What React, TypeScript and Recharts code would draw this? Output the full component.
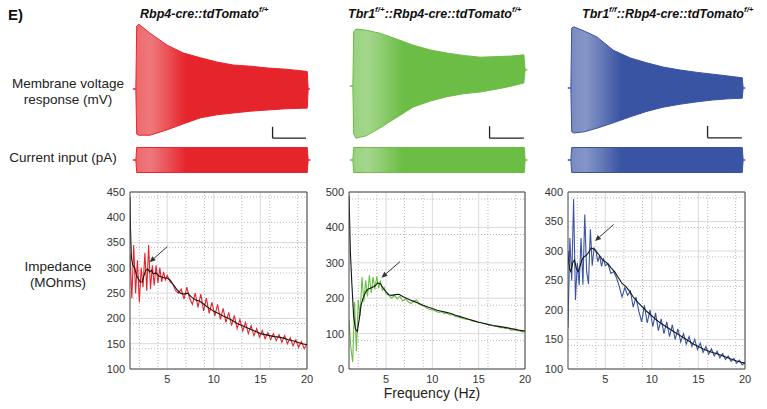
import { AreaChart, Area, LineChart, Line, XAxis, YAxis, CartesianGrid, ReferenceLine } from 'recharts'

const RED = '#e5252b'
const GREEN = '#6bbd45'
const BLUE = '#3a54a4'
const FONT = '"Liberation Sans", Arial, sans-serif'

// impedance: raw traces share one frequency grid (Hz)
const rawFreq = [
  1.0, 1.2, 1.4, 1.6, 1.8, 2.0, 2.2, 2.4, 2.6, 2.8, 3.0, 3.2, 3.4, 3.6, 3.8, 4.0, 4.2, 4.4, 4.6, 4.8, 5.0,
  5.3, 5.6, 5.9, 6.2, 6.5, 6.8, 7.1, 7.4, 7.7, 8.0, 8.3, 8.6, 8.9, 9.2, 9.5, 9.8, 10.1, 10.4, 10.7, 11.0,
  11.3, 11.6, 11.9, 12.2, 12.5, 12.8, 13.1, 13.4, 13.7, 14.0, 14.3, 14.6, 14.9, 15.2, 15.5, 15.8, 16.1,
  16.4, 16.7, 17.0, 17.3, 17.6, 17.9, 18.2, 18.5, 18.8, 19.1, 19.4, 19.7, 20.0,
]
const redRaw = [
  328, 240, 345, 250, 315, 232, 300, 262, 330, 255, 345, 258, 305, 265, 305, 270, 300, 272, 292, 276, 285,
  272, 268, 255, 250, 258, 238, 262, 240, 228, 250, 222, 248, 215, 240, 210, 232, 205, 228, 198, 220,
  192, 212, 186, 206, 180, 198, 175, 192, 170, 186, 166, 180, 163, 176, 160, 172, 158,
  170, 156, 168, 153, 166, 150, 162, 146, 158, 143, 154, 140, 150,
]
const greenRaw = [
  140, 60, 20, 190, 50, 195, 150, 260, 190, 250, 205, 265, 215, 260, 225, 262, 228, 250, 222, 230, 212,
  208, 200, 208, 198, 205, 192, 198, 190, 185, 192, 195, 182, 180, 176, 170, 168, 166, 163, 160, 162,
  156, 158, 152, 154, 148, 147, 144, 142, 140, 140, 136, 135, 132, 132, 128, 128, 124,
  124, 121, 120, 117, 117, 114, 115, 110, 111, 108, 108, 105, 106,
]
const blueRaw = [
  170, 322, 250, 388, 217, 280, 242, 322, 243, 362, 265, 244, 337, 275, 305, 300, 282, 292, 274, 288, 275,
  278, 262, 265, 255, 240, 222, 238, 225, 232, 205, 222, 198, 180, 208, 178, 200, 172, 195, 165, 185,
  160, 180, 155, 175, 150, 168, 146, 160, 142, 155, 138, 150, 133, 144, 128, 138, 125,
  134, 122, 130, 119, 126, 116, 122, 113, 118, 110, 115, 107, 111,
]

// smoothed (black) traces
const smoothFreq = [
  1.0, 1.05, 1.15, 1.3, 1.5, 1.7, 1.9, 2.1, 2.3, 2.5, 2.7, 2.9, 3.1, 3.3, 3.5, 3.8, 4.1, 4.4, 4.7, 5.0,
  5.3, 5.6, 6.0, 6.4, 6.8, 7.2, 7.6, 8.0, 8.5, 9.0, 9.5, 10, 10.5, 11, 11.5, 12, 12.5, 13, 13.5, 14,
  14.5, 15, 15.5, 16, 16.5, 17, 17.5, 18, 18.5, 19, 19.5, 20,
]
const redSmooth = [
  440, 380, 320, 305, 300, 285, 278, 272, 272, 285, 295, 298, 292, 295, 288, 290, 284, 282, 280, 280,
  276, 268, 258, 250, 248, 250, 242, 237, 234, 227, 220, 214, 210, 205, 201, 196, 190, 186, 182, 178,
  174, 170, 168, 166, 164, 163, 161, 158, 156, 153, 150, 148,
]
const greenSmooth = [
  490, 440, 330, 245, 150, 112, 106, 140, 180, 198, 212, 222, 226, 228, 230, 235, 243, 240, 228, 218,
  210, 208, 210, 211, 205, 200, 195, 191, 186, 180, 175, 171, 166, 163, 160, 157, 152, 148, 144, 140,
  136, 132, 129, 126, 123, 121, 119, 117, 114, 112, 109, 107,
]
const blueSmooth = [
  300, 285, 270, 265, 280, 285, 270, 265, 275, 285, 290, 292, 295, 300, 305, 303, 298, 292, 285, 282,
  278, 272, 265, 255, 245, 240, 232, 222, 213, 205, 197, 190, 183, 177, 172, 167, 162, 157, 152, 147,
  142, 138, 134, 131, 128, 126, 123, 120, 117, 114, 112, 110,
]

const freqTicks = [5, 10, 15, 20]
const redTicks = [100, 150, 200, 250, 300, 350, 400, 450]
const greenTicks = [0, 100, 200, 300, 400, 500]
const blueTicks = [100, 150, 200, 250, 300, 350, 400]

// membrane voltage envelopes (time s, mV relative to rest)
const redVT = [-0.4, -0.05, 0.05, 0.3, 1.6, 3.6, 5.5, 7.5, 9.4, 11.3, 13.3, 15.3, 17.4, 19.5, 19.95, 20.05, 20.25]
const redVUp = [0, 0, 10.5, 10.8, 9.3, 7.3, 6.0, 5.2, 4.5, 4.0, 3.8, 3.5, 3.3, 3.0, 2.9, 0, 0]
const redVLo = [0, 0, -7.5, -7.7, -7.7, -6.8, -5.8, -4.8, -4.3, -4.0, -3.7, -3.5, -3.3, -3.2, -3.2, 0, 0]

const greenVT = [-0.4, -0.05, 0.05, 0.3, 1.5, 3.1, 5.1, 7.0, 9.0, 10.9, 12.8, 14.8, 16.8, 18.5, 19.9, 20.05, 20.3]
const greenVUp = [0, 0, 9.0, 9.5, 9.3, 8.8, 7.8, 6.8, 6.0, 5.5, 5.1, 4.8, 4.9, 5.0, 5.2, 2.7, 2.7]
const greenVLo = [0, 0, -8.0, -8.7, -8.3, -7.0, -5.2, -3.5, -2.5, -1.8, -1.3, -1.0, -0.5, 0.0, 0.5, 2.7, 2.7]

const blueVT = [-0.4, -0.05, 0.05, 0.3, 1.5, 3.0, 4.9, 6.9, 8.8, 10.7, 12.7, 14.7, 16.5, 18.3, 19.95, 20.05, 20.3]
const blueVUp = [0, 0, 10.0, 10.2, 9.5, 8.5, 6.3, 5.0, 4.2, 3.5, 3.0, 2.6, 2.3, 2.0, 1.7, 0, 0]
const blueVLo = [0, 0, -7.3, -7.5, -7.3, -6.7, -5.8, -4.8, -3.9, -3.2, -2.7, -2.3, -2.0, -1.8, -1.7, 0, 0]

// current input envelope (pA)
const curT = [-0.4, -0.05, 0.05, 19.95, 20.05, 20.3]
const curUp = [0, 0, 100, 100, 0, 0]
const curLo = [0, 0, -100, -100, 0, 0]

const range = (a: number, b: number, s: number, skip: number) => {
  const out: number[] = []
  for (let v = a; v <= b + 1e-9; v += s) if (Math.abs(v % skip) > 1e-6) out.push(v)
  return out
}

const Arrow = (p: any) => {
  const { x1, y1, x2, y2 } = p
  const ang = Math.atan2(y2 - y1, x2 - x1)
  const L = 6, W = 2.6
  const bx = x2 - L * Math.cos(ang), by = y2 - L * Math.sin(ang)
  const px = -Math.sin(ang) * W, py = Math.cos(ang) * W
  return (
    <g>
      <line x1={x1} y1={y1} x2={bx} y2={by} stroke="#333" strokeWidth={1} />
      <polygon points={`${x2},${y2} ${bx + px},${by + py} ${bx - px},${by - py}`} fill="#333" />
    </g>
  )
}

const tickStyle = { fontSize: 11, fill: '#333', fontFamily: FONT }

function Impedance({ left, plotW, domain, ticks, minorStep, majorStep, raw, smooth, color, arrow }: any) {
  const ML = 36, MT = 6, MR = 8, MB = 22, PH = 177
  const rawData = rawFreq.map((f, i) => ({ f, z: raw[i] }))
  const smoothData = smoothFreq.map((f, i) => ({ f, z: smooth[i] }))
  return (
    <div style={{ position: 'absolute', left: left - ML, top: 192 - MT }}>
      <LineChart width={ML + plotW + MR} height={MT + PH + MB} margin={{ top: MT, right: MR, bottom: 0, left: 0 }}>
        <CartesianGrid
          verticalValues={range(2, 19, 1, 5)}
          horizontalValues={range(domain[0], domain[1], minorStep, majorStep)}
          stroke="#b8b8b8"
          strokeDasharray="1 2"
        />
        <CartesianGrid verticalValues={freqTicks} horizontalValues={ticks} stroke="#dadada" />
        <XAxis
          type="number"
          dataKey="f"
          domain={[1, 20]}
          ticks={freqTicks}
          allowDataOverflow
          height={MB}
          tickLine={false}
          tickSize={3}
          tickMargin={3}
          axisLine={{ stroke: '#444' }}
          tick={tickStyle}
        />
        <YAxis
          type="number"
          domain={domain}
          ticks={ticks}
          allowDataOverflow
          width={ML}
          tickLine={false}
          tickSize={3}
          tickMargin={2}
          axisLine={{ stroke: '#444' }}
          tick={tickStyle}
        />
        <ReferenceLine x={20} stroke="#444" ifOverflow="visible" />
        <ReferenceLine y={domain[1]} stroke="#444" ifOverflow="visible" />
        <Line data={rawData} dataKey="z" stroke={color} strokeWidth={1.1} dot={false} isAnimationActive={false} />
        <Line data={smoothData} dataKey="z" stroke="#161616" strokeWidth={1.1} dot={false} isAnimationActive={false} />
        <ReferenceLine
          segment={[{ x: arrow[0], y: arrow[1] }, { x: arrow[2], y: arrow[3] }]}
          ifOverflow="visible"
          shape={Arrow}
        />
      </LineChart>
    </div>
  )
}

function Trace({ id, left, top, height, domain, t, up, lo, color, bar }: any) {
  const data = t.map((tt: number, i: number) => ({ t: tt, v: [lo[i], up[i]] }))
  return (
    <div style={{ position: 'absolute', left, top }}>
      <AreaChart width={180} height={height} data={data} margin={{ top: 0, right: 0, bottom: 0, left: 0 }}>
        <defs>
          <linearGradient id={id} x1="0" y1="0" x2="1" y2="0">
            <stop offset="0" stopColor={color} stopOpacity={0.7} />
            <stop offset="0.1" stopColor={color} stopOpacity={0.62} />
            <stop offset="0.2" stopColor={color} stopOpacity={0.8} />
            <stop offset="0.3" stopColor={color} stopOpacity={1} />
            <stop offset="1" stopColor={color} stopOpacity={1} />
          </linearGradient>
        </defs>
        <XAxis type="number" dataKey="t" domain={[-0.5, 20.5]} hide />
        <YAxis type="number" domain={domain} hide />
        <Area
          type="linear"
          dataKey="v"
          stroke={color}
          strokeWidth={1}
          fill={`url(#${id})`}
          fillOpacity={1}
          isAnimationActive={false}
        />
        {bar && (
          <ReferenceLine
            segment={[{ x: bar[0], y: bar[2] }, { x: bar[0], y: bar[3] }]}
            stroke="#222"
            strokeWidth={1.3}
            ifOverflow="visible"
          />
        )}
        {bar && (
          <ReferenceLine
            segment={[{ x: bar[0], y: bar[3] }, { x: bar[1], y: bar[3] }]}
            stroke="#222"
            strokeWidth={1.3}
            ifOverflow="visible"
          />
        )}
      </AreaChart>
    </div>
  )
}

const label: any = { position: 'absolute', textAlign: 'center', fontSize: 13.5, lineHeight: '16px', color: '#222' }
const title: any = { position: 'absolute', top: 7, fontSize: 12.5, fontWeight: 'bold', fontStyle: 'italic', color: '#111', whiteSpace: 'nowrap' }
const sup: any = { fontSize: 8, verticalAlign: 'top', position: 'relative', top: -2 }

export default function App() {
  const vDom = [-9.5, 11.5]
  const cDom = [-120, 120]
  return (
    <div style={{ position: 'absolute', left: 0, top: 0, width: 767, height: 409, background: '#fff', fontFamily: FONT, overflow: 'hidden' }}>
      <div style={{ position: 'absolute', left: 8, top: 6, fontSize: 15, fontWeight: 'bold', color: '#111' }}>E)</div>

      <div style={{ ...title, left: 140 }}>
        Rbp4-cre::tdTomato<span style={sup}>f/+</span>
      </div>
      <div style={{ ...title, left: 348 }}>
        Tbr1<span style={sup}>f/+</span>::Rbp4-cre::tdTomato<span style={sup}>f/+</span>
      </div>
      <div style={{ ...title, left: 582 }}>
        Tbr1<span style={sup}>f/f</span>::Rbp4-cre::tdTomato<span style={sup}>f/+</span>
      </div>

      <div style={{ ...label, left: 0, top: 76, width: 136 }}>
        Membrane voltage
        <br />
        response (mV)
      </div>
      <div style={{ ...label, left: 0, top: 150, width: 126 }}>Current input (pA)</div>
      <div style={{ ...label, left: 0, top: 259, width: 116 }}>
        Impedance
        <br />
        (MOhms)
      </div>
      <div style={{ ...label, left: 332, top: 385, width: 200, fontSize: 14 }}>Frequency (Hz)</div>

      <Trace id="gr1" left={131.7} top={20} height={126} domain={vDom} t={redVT} up={redVUp} lo={redVLo} color={RED} bar={[15.9, 19.8, -6.3, -8.2]} />
      <Trace id="gr2" left={348.7} top={17} height={126} domain={vDom} t={greenVT} up={greenVUp} lo={greenVLo} color={GREEN} bar={[15.9, 19.9, -6.7, -8.7]} />
      <Trace id="gr3" left={566.7} top={19} height={126} domain={vDom} t={blueVT} up={blueVUp} lo={blueVLo} color={BLUE} bar={[15.9, 19.9, -6.3, -8.3]} />

      <Trace id="gc1" left={131.7} top={145} height={30} domain={cDom} t={curT} up={curUp} lo={curLo} color={RED} />
      <Trace id="gc2" left={348.7} top={145} height={30} domain={cDom} t={curT} up={curUp} lo={curLo} color={GREEN} />
      <Trace id="gc3" left={566.7} top={145} height={30} domain={cDom} t={curT} up={curUp} lo={curLo} color={BLUE} />

      <Impedance left={130} plotW={177} domain={[100, 450]} ticks={redTicks} minorStep={10} majorStep={50} raw={redRaw} smooth={redSmooth} color={RED} arrow={[5.0, 342, 3.1, 311]} />
      <Impedance left={349} plotW={176} domain={[0, 500]} ticks={greenTicks} minorStep={20} majorStep={100} raw={greenRaw} smooth={greenSmooth} color={GREEN} arrow={[6.5, 303, 4.5, 258]} />
      <Impedance left={568} plotW={177} domain={[100, 400]} ticks={blueTicks} minorStep={10} majorStep={50} raw={blueRaw} smooth={blueSmooth} color={BLUE} arrow={[5.9, 345, 3.9, 317]} />
    </div>
  )
}
